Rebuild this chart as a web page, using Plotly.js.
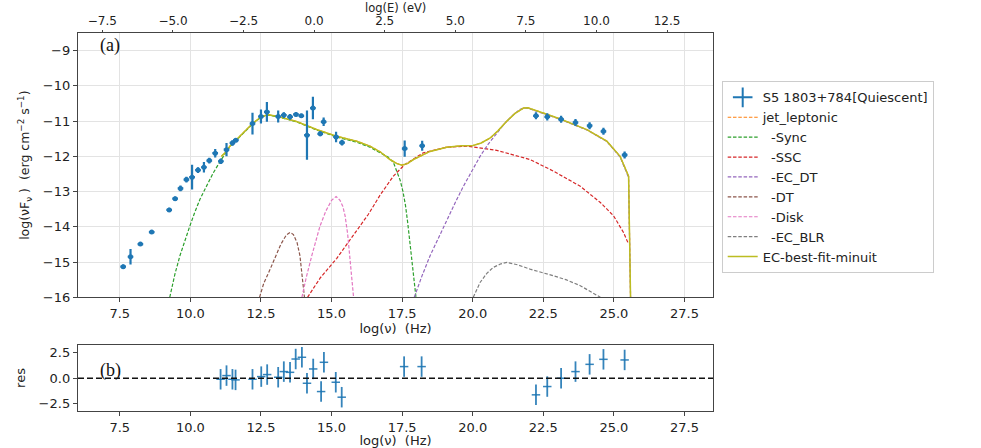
<!DOCTYPE html>
<html><head><meta charset="utf-8">
<script src="https://cdn.plot.ly/plotly-3.0.1.min.js"></script>
<style>html,body{margin:0;padding:0;background:#fff}#chart{width:981px;height:448px}</style>
</head><body><div id="chart"></div>
<script>
// ---- observed SED (log nu [Hz], log nuFnu) ----
const dataX = [7.62,7.88,8.23,8.63,9.25,9.46,9.65,9.86,10.06,10.27,10.48,10.67,10.88,11.08,11.28,11.49,11.61,12.20,12.50,12.71,13.11,13.31,13.53,13.74,13.93,14.13,14.34,14.60,14.72,15.16,15.37,17.59,18.21,22.24,22.64,23.13,23.64,24.14,24.63,25.38];
const dataY = [-15.13,-14.85,-14.49,-14.15,-13.52,-13.20,-12.91,-12.66,-12.59,-12.39,-12.31,-12.12,-11.91,-12.14,-11.81,-11.62,-11.54,-11.07,-10.87,-10.74,-10.87,-10.83,-10.88,-10.81,-10.85,-11.40,-10.63,-11.36,-11.02,-11.45,-11.61,-11.78,-11.70,-10.85,-10.88,-10.95,-11.04,-11.13,-11.29,-11.96];
const dataErr = [0.06,0.22,0.05,0.05,0.06,0.06,0.08,0.08,0.35,0.08,0.15,0.08,0.12,0.08,0.19,0.08,0.06,0.31,0.20,0.28,0.17,0.08,0.08,0.06,0.06,0.70,0.32,0.07,0.12,0.15,0.08,0.23,0.14,0.10,0.10,0.10,0.10,0.10,0.10,0.10];

// ---- residuals ----
const resX = [11.07,11.28,11.49,11.60,12.20,12.51,12.72,13.11,13.31,13.53,13.73,13.95,14.13,14.35,14.63,14.73,15.15,15.36,17.57,18.19,22.24,22.64,23.13,23.64,24.14,24.63,25.38];
const resY = [-0.10,0.26,-0.10,-0.16,-0.10,0.16,0.36,0.10,0.65,0.58,1.88,2.05,-0.49,0.91,-1.30,1.56,-0.39,-1.85,1.14,1.14,-1.62,-0.81,0.00,0.65,1.36,1.85,1.79];
const resErr = [1,1,1,1,1,1,1,1,1,1,1,1,1,1,1,1,1,1,1,1,1,1,1,1,1,1,1];

// ---- model components ----
const totalX = [11.10,11.28,11.40,11.87,12.20,12.52,12.76,13.11,13.76,14.47,15.18,15.89,16.36,16.72,17.07,17.30,17.49,17.70,17.90,18.49,19.08,19.60,20.02,20.30,20.62,20.90,21.21,21.50,21.80,21.95,22.15,22.60,23.10,24.04,24.75,25.22,25.52,25.60];
const totalY = [-12.00,-11.86,-11.71,-11.34,-11.07,-10.87,-10.82,-10.87,-11.01,-11.24,-11.43,-11.57,-11.71,-11.87,-12.09,-12.20,-12.25,-12.20,-12.09,-11.86,-11.74,-11.70,-11.69,-11.62,-11.48,-11.27,-11.00,-10.78,-10.63,-10.62,-10.68,-10.80,-10.94,-11.24,-11.57,-12.00,-12.56,-16.5];
const syncX = [9.27,9.45,9.63,9.80,9.98,10.15,10.34,10.55,10.81,11.05,11.28,11.40,11.87,12.20,12.52,12.76,13.11,13.76,14.47,15.18,15.89,16.36,16.72,17.00,17.19,17.31,17.43,17.53,17.62,17.70,17.78,17.86,17.93,17.99];
const syncY = [-16.0,-15.35,-14.82,-14.38,-13.98,-13.60,-13.22,-12.88,-12.47,-12.15,-11.86,-11.72,-11.35,-11.08,-10.88,-10.83,-10.88,-11.02,-11.25,-11.45,-11.60,-11.74,-11.90,-12.02,-12.17,-12.40,-12.68,-13.00,-13.40,-13.90,-14.50,-15.10,-15.60,-16.0];
const sscX = [14.15,14.60,15.18,15.80,16.30,16.72,17.19,17.60,18.25,19.08,19.79,20.85,22.03,22.86,23.81,24.52,24.99,25.34,25.52];
const sscY = [-16.0,-15.45,-14.90,-14.20,-13.65,-13.10,-12.56,-12.23,-11.90,-11.74,-11.71,-11.83,-12.09,-12.42,-12.85,-13.31,-13.69,-14.16,-14.49];
const ecdtX = [17.93,18.20,18.49,18.80,19.08,19.40,19.67,20.00,20.26,20.55,20.85,21.15,21.44,21.65,21.80,21.95,22.15,22.60,23.10,24.04,24.75,25.22,25.52,25.60];
const ecdtY = [-16.0,-15.40,-14.82,-14.28,-13.79,-13.28,-12.85,-12.36,-12.00,-11.65,-11.34,-11.05,-10.82,-10.68,-10.63,-10.63,-10.69,-10.81,-10.95,-11.25,-11.58,-12.02,-12.60,-16.5];
const dtX = [12.45,12.60,12.80,13.00,13.20,13.40,13.53,13.65,13.78,13.88,13.95,14.00,14.04];
const dtY = [-16.0,-15.60,-15.25,-14.90,-14.50,-14.23,-14.16,-14.22,-14.45,-14.82,-15.30,-15.70,-16.0];
const diskX = [13.95,14.10,14.30,14.45,14.59,14.80,15.00,15.16,15.30,15.40,15.48,15.57,15.65,15.72,15.78];
const diskY = [-16.0,-15.45,-14.82,-14.35,-13.98,-13.55,-13.25,-13.14,-13.25,-13.42,-13.69,-14.20,-14.82,-15.40,-16.0];
const blrX = [20.02,20.26,20.50,20.73,21.00,21.21,21.60,22.03,22.86,23.30,23.81,24.20,24.52];
const blrY = [-16.0,-15.58,-15.32,-15.15,-15.05,-15.01,-15.08,-15.20,-15.39,-15.50,-15.67,-15.84,-16.0];

const tickVals = [7.5,10.0,12.5,15.0,17.5,20.0,22.5,25.0,27.5];
const xRange = [6.02, 28.51];
const logH = -14.383; // log10(h [eV s]) : E = h*nu

const F = 'DejaVu Sans, sans-serif';
const dash = '3.5px,1.8px';
function comp(name, x, y, color, rank){
  return {type:'scatter', mode:'lines', name:name, x:x, y:y, xaxis:'x', yaxis:'y',
          line:{color:color, width:1.2, dash:dash}, legendrank:rank, hoverinfo:'skip'};
}
const traces = [
  comp('jet_leptonic', totalX, totalY, '#ff7f0e', 2),
  comp('\u00a0\u00a0-Sync', syncX, syncY, '#2ca02c', 3),
  comp('\u00a0\u00a0-SSC', sscX, sscY, '#d62728', 4),
  comp('\u00a0\u00a0-EC_DT', ecdtX, ecdtY, '#9467bd', 5),
  comp('\u00a0\u00a0-DT', dtX, dtY, '#8c564b', 6),
  comp('\u00a0\u00a0-Disk', diskX, diskY, '#e377c2', 7),
  comp('\u00a0\u00a0-EC_BLR', blrX, blrY, '#7f7f7f', 8),
  {type:'scatter', mode:'lines', name:'EC-best-fit-minuit', x:totalX, y:totalY, xaxis:'x', yaxis:'y',
   line:{color:'#bcbd22', width:1.5}, legendrank:9},
  {type:'scatter', mode:'markers', name:'S5 1803+784[Quiescent]', x:dataX, y:dataY, xaxis:'x', yaxis:'y',
   marker:{color:'#1f77b4', size:5, symbol:'circle'},
   error_y:{type:'data', array:dataErr, visible:true, color:'#1f77b4', thickness:2.2, width:0},
   error_x:{type:'constant', value:0.1, visible:true, color:'#1f77b4', thickness:2.2, width:0},
   showlegend:false},
  {type:'scatter', mode:'markers', name:'S5 1803+784[Quiescent]', x:[null], y:[null], xaxis:'x', yaxis:'y',
   marker:{color:'#1f77b4', size:14, symbol:'cross-thin-open', line:{color:'#1f77b4', width:2}}, legendrank:1},
  {type:'scatter', mode:'markers', x:resX, y:resY, xaxis:'x3', yaxis:'y3', showlegend:false,
   marker:{color:'#1f77b4', size:1},
   error_y:{type:'data', array:resErr, visible:true, color:'rgba(31,119,180,0.9)', thickness:1.8, width:0},
   error_x:{type:'constant', value:0.15, visible:true, color:'rgba(31,119,180,0.9)', thickness:1.5, width:0}},
  {type:'scatter', mode:'markers', x:[], y:[], xaxis:'x2', yaxis:'y', showlegend:false}
];

const axLine = '#444';
const tickFont = {family:F, size:13, color:'#222'};
const layout = {
  width:981, height:448,
  margin:{l:78, r:268, t:33, b:37},
  paper_bgcolor:'#fff', plot_bgcolor:'#fff',
  font:{family:F, size:13, color:'#222'},
  showlegend:true,
  legend:{x:1.0137, xanchor:'left', y:0.872, yanchor:'top', bgcolor:'#fff',
          bordercolor:'#cccccc', borderwidth:1, font:{family:F, size:13, color:'#222'},
          tracegroupgap:0, itemwidth:30},
  xaxis:{domain:[0,1], anchor:'y', range:xRange, tickvals:tickVals, ticktext:tickVals.map(v=>v.toFixed(1)),
         showgrid:true, gridcolor:'#e3e3e3', gridwidth:1, zeroline:false,
         showline:true, mirror:true, linecolor:axLine, linewidth:1.2,
         ticks:'outside', ticklen:4, tickcolor:axLine, tickfont:tickFont,
         title:{text:'log(\u03bd)  (Hz)', font:{family:F, size:13, color:'#222'}, standoff:0}},
  xaxis2:{overlaying:'x', anchor:'y', side:'top', range:[xRange[0]+logH, xRange[1]+logH],
          tick0:0, dtick:2.5, tickformat:'.1f', showgrid:false, zeroline:false, showline:false,
          ticks:'outside', ticklen:2, tickcolor:axLine, tickfont:{family:F, size:12, color:'#222'}},
  yaxis:{domain:[0.3008,1], anchor:'x', range:[-16,-8.5], dtick:1, tick0:0,
         showgrid:true, gridcolor:'#e3e3e3', gridwidth:1, zeroline:false,
         showline:true, mirror:true, linecolor:axLine, linewidth:1.2,
         ticks:'outside', ticklen:4, tickcolor:axLine, tickfont:tickFont,
         title:{text:'log(\u03bdF<sub>\u03bd</sub> )  (erg cm<sup>\u22122</sup> s<sup>\u22121</sup>)', font:{family:F, size:12.5, color:'#222'}, standoff:10}},
  xaxis3:{domain:[0,1], anchor:'y3', range:xRange, tickvals:tickVals, ticktext:tickVals.map(v=>v.toFixed(1)),
          showgrid:false, zeroline:false, showline:true, mirror:true, linecolor:axLine, linewidth:1.2,
          ticks:'outside', ticklen:4, tickcolor:axLine, tickfont:tickFont,
          title:{text:'log(\u03bd)  (Hz)', font:{family:F, size:13, color:'#222'}, standoff:0}},
  yaxis3:{domain:[0,0.1746], anchor:'x3', range:[-3.2,3.25], tickvals:[-2.5,0,2.5], ticktext:['\u22122.5','0.0','2.5'],
          showgrid:false, zeroline:false, showline:true, mirror:true, linecolor:axLine, linewidth:1.2,
          ticks:'outside', ticklen:4, tickcolor:axLine, tickfont:tickFont,
          title:{text:'res', font:{family:F, size:13, color:'#222'}, standoff:10}},
  shapes:[{type:'line', xref:'x3 domain', yref:'y3', x0:0, x1:1, y0:0, y1:0,
           line:{color:'#111', width:1.3, dash:'6px,3px'}}],
  annotations:[
    {text:'log(E) (eV)', xref:'paper', yref:'paper', x:0.5, y:1.0873, xanchor:'center', yanchor:'top', showarrow:false,
     borderpad:0, font:{family:F, size:11.5, color:'#222'}},
    {text:'(a)', xref:'paper', yref:'paper', x:0.0504, y:0.968, xanchor:'center', yanchor:'middle', showarrow:false,
     font:{family:'Liberation Serif, Times New Roman, serif', size:18, color:'#111'}},
    {text:'(b)', xref:'paper', yref:'paper', x:0.0504, y:0.1059, xanchor:'center', yanchor:'middle', showarrow:false,
     font:{family:'Liberation Serif, Times New Roman, serif', size:18, color:'#111'}}
  ]
};
Plotly.newPlot('chart', traces, layout, {displayModeBar:false, staticPlot:true});
</script></body></html>
